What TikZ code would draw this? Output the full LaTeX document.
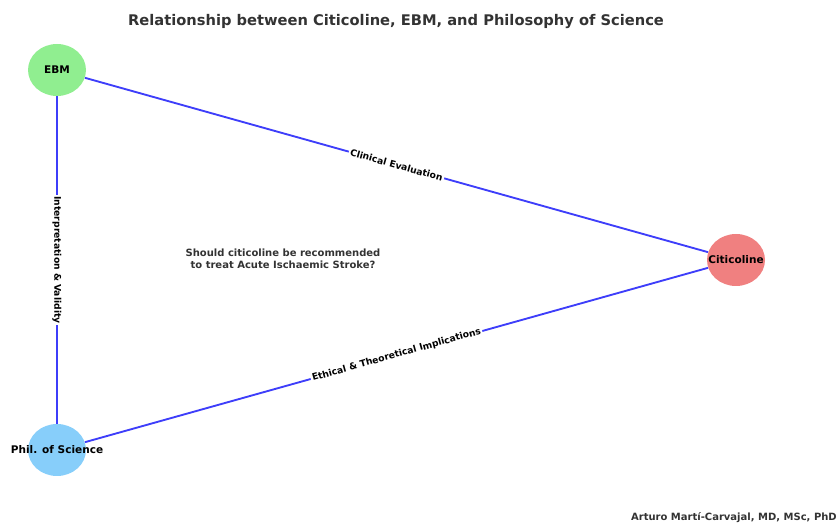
\documentclass[tikz,border=0pt]{standalone}
\usepackage{fontspec}
\setmainfont{DejaVu Sans}
\usepackage{xcolor}
\usepackage{tikz}
\usetikzlibrary{positioning,shapes.geometric}
\definecolor{EBMc}{RGB}{144,238,144}
\definecolor{CITc}{RGB}{240,128,128}
\definecolor{PHIc}{RGB}{135,206,250}
\definecolor{EdgeBlue}{RGB}{62,62,250}
\definecolor{TxtGray}{RGB}{51,51,51}
\tikzset{
  topic/.style={ellipse,minimum width=43.5pt,minimum height=39pt,inner sep=0pt,
                label={[font=\fontsize{7.9}{9}\selectfont\bfseries,text=black]center:#1}},
  link/.style={line width=1.4pt,EdgeBlue},
  linklab/.style={fill=white,inner sep=1.2pt,text=black,
                  font=\fontsize{6.9}{8}\selectfont\bfseries},
}

\begin{document}
\begin{tikzpicture}[x=0.75pt,y=0.75pt]
  \useasboundingbox (0,0) rectangle (838,524);

  % the three topics
  \node[topic=EBM,fill=EBMc] (ebm) at (57,454) {};
  \node[topic=Citicoline,fill=CITc] (cit) at (736,264) {};
  \node[topic=Phil. of Science,fill=PHIc] (phil) at (57,74) {};

  % relations
  \draw[link] (ebm) -- node[linklab,sloped] {Clinical Evaluation} (cit);
  \draw[link] (phil) -- node[linklab,sloped] {Ethical \& Theoretical Implications} (cit);
  \draw[link] (ebm) -- node[linklab,rotate=-90] {Interpretation \& Validity} (phil);

  \node[align=center,text=TxtGray,font=\fontsize{7.5}{8.7}\selectfont\bfseries]
    (qst) at (283,265) {Should citicoline be recommended\\to treat Acute Ischaemic Stroke?};

  \node[text=TxtGray,font=\fontsize{11}{13}\selectfont\bfseries]
    (ttl) at (396,502) {Relationship between Citicoline, EBM, and Philosophy of Science};

  \node[anchor=base east,inner sep=0pt,text=TxtGray,font=\fontsize{7.5}{9}\selectfont\bfseries]
    (auth) at (837,3.5) {Arturo Martí-Carvajal, MD, MSc, PhD};
\end{tikzpicture}
\end{document}
